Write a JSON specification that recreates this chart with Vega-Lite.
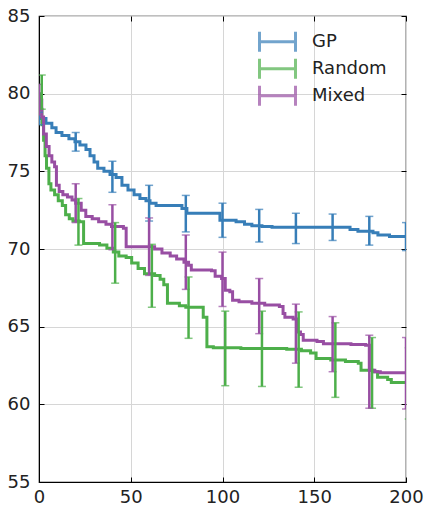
{
  "$schema": "https://vega.github.io/schema/vega-lite/v6.json",
  "width": 367,
  "height": 466,
  "autosize": {"type": "none"},
  "padding": {"left": 39, "top": 16, "right": 21, "bottom": 23},
  "background": "white",
  "config": {"font": "DejaVu Sans", "view": {"stroke": "black", "strokeWidth": 1.2}},
  "datasets": {
    "lines": [
      {"method": "GP", "x": 0, "y": 78.4}, {"method": "GP", "x": 3.8, "y": 78.1}, {"method": "GP", "x": 7, "y": 77.8},
      {"method": "GP", "x": 9.3, "y": 77.5}, {"method": "GP", "x": 12.5, "y": 77.3}, {"method": "GP", "x": 16.3, "y": 77.1},
      {"method": "GP", "x": 19.6, "y": 76.9}, {"method": "GP", "x": 22.3, "y": 76.7}, {"method": "GP", "x": 25.6, "y": 76.4},
      {"method": "GP", "x": 27.8, "y": 76.0}, {"method": "GP", "x": 30, "y": 75.6}, {"method": "GP", "x": 32, "y": 75.2},
      {"method": "GP", "x": 35.4, "y": 75.0}, {"method": "GP", "x": 38.7, "y": 74.8}, {"method": "GP", "x": 42, "y": 74.6},
      {"method": "GP", "x": 45.2, "y": 74.1}, {"method": "GP", "x": 48.5, "y": 73.8}, {"method": "GP", "x": 51.8, "y": 73.5},
      {"method": "GP", "x": 55, "y": 73.25}, {"method": "GP", "x": 58.3, "y": 73.1}, {"method": "GP", "x": 60.5, "y": 72.95},
      {"method": "GP", "x": 63.8, "y": 72.8}, {"method": "GP", "x": 77.9, "y": 72.6}, {"method": "GP", "x": 80.6, "y": 72.3},
      {"method": "GP", "x": 98.6, "y": 71.85}, {"method": "GP", "x": 107.4, "y": 71.75}, {"method": "GP", "x": 112, "y": 71.6},
      {"method": "GP", "x": 116, "y": 71.5}, {"method": "GP", "x": 121.5, "y": 71.45}, {"method": "GP", "x": 127, "y": 71.4},
      {"method": "GP", "x": 169.5, "y": 71.25}, {"method": "GP", "x": 173.8, "y": 71.15}, {"method": "GP", "x": 182, "y": 71.05},
      {"method": "GP", "x": 184.7, "y": 70.9}, {"method": "GP", "x": 191, "y": 70.8}, {"method": "GP", "x": 200, "y": 70.8},

      {"method": "Random", "x": 0, "y": 80.0}, {"method": "Random", "x": 0.8, "y": 79.0}, {"method": "Random", "x": 1.6, "y": 78.0},
      {"method": "Random", "x": 2.5, "y": 77.0}, {"method": "Random", "x": 3.3, "y": 76.0}, {"method": "Random", "x": 4.1, "y": 75.2},
      {"method": "Random", "x": 5.4, "y": 74.2}, {"method": "Random", "x": 6.5, "y": 73.8}, {"method": "Random", "x": 8.5, "y": 73.5},
      {"method": "Random", "x": 10.5, "y": 73.1}, {"method": "Random", "x": 12.7, "y": 72.8}, {"method": "Random", "x": 14.5, "y": 72.2},
      {"method": "Random", "x": 16.5, "y": 71.95}, {"method": "Random", "x": 18.5, "y": 71.8}, {"method": "Random", "x": 22, "y": 71.75},
      {"method": "Random", "x": 24.3, "y": 70.35}, {"method": "Random", "x": 33, "y": 70.25}, {"method": "Random", "x": 37, "y": 70.05},
      {"method": "Random", "x": 40.5, "y": 69.8}, {"method": "Random", "x": 43.5, "y": 69.55}, {"method": "Random", "x": 47.5, "y": 69.45},
      {"method": "Random", "x": 50.5, "y": 69.1}, {"method": "Random", "x": 54, "y": 68.75}, {"method": "Random", "x": 57.5, "y": 68.4},
      {"method": "Random", "x": 63, "y": 68.3}, {"method": "Random", "x": 66, "y": 68.05}, {"method": "Random", "x": 68, "y": 67.7},
      {"method": "Random", "x": 70, "y": 66.5}, {"method": "Random", "x": 76.5, "y": 66.35}, {"method": "Random", "x": 80, "y": 66.25},
      {"method": "Random", "x": 89.5, "y": 65.6}, {"method": "Random", "x": 91.5, "y": 63.7}, {"method": "Random", "x": 95, "y": 63.65},
      {"method": "Random", "x": 110, "y": 63.6}, {"method": "Random", "x": 135, "y": 63.55}, {"method": "Random", "x": 143, "y": 63.45},
      {"method": "Random", "x": 148, "y": 63.3}, {"method": "Random", "x": 151, "y": 62.95}, {"method": "Random", "x": 159, "y": 62.85},
      {"method": "Random", "x": 167, "y": 62.75}, {"method": "Random", "x": 174, "y": 62.65}, {"method": "Random", "x": 175.5, "y": 62.2},
      {"method": "Random", "x": 182, "y": 62.1}, {"method": "Random", "x": 184.5, "y": 61.75}, {"method": "Random", "x": 190, "y": 61.6},
      {"method": "Random", "x": 192, "y": 61.4}, {"method": "Random", "x": 200, "y": 61.35},

      {"method": "Mixed", "x": 0, "y": 79.6}, {"method": "Mixed", "x": 1.5, "y": 78.5}, {"method": "Mixed", "x": 2.5, "y": 77.4},
      {"method": "Mixed", "x": 4, "y": 76.6}, {"method": "Mixed", "x": 5.5, "y": 76.0}, {"method": "Mixed", "x": 7, "y": 75.6},
      {"method": "Mixed", "x": 8.5, "y": 75.3}, {"method": "Mixed", "x": 9.5, "y": 74.1}, {"method": "Mixed", "x": 11, "y": 73.7},
      {"method": "Mixed", "x": 13, "y": 73.5}, {"method": "Mixed", "x": 15.5, "y": 73.35}, {"method": "Mixed", "x": 18, "y": 73.15},
      {"method": "Mixed", "x": 20, "y": 72.95}, {"method": "Mixed", "x": 23, "y": 72.5}, {"method": "Mixed", "x": 25.5, "y": 72.1},
      {"method": "Mixed", "x": 29, "y": 71.95}, {"method": "Mixed", "x": 32.5, "y": 71.75}, {"method": "Mixed", "x": 36.5, "y": 71.6},
      {"method": "Mixed", "x": 39.5, "y": 71.45}, {"method": "Mixed", "x": 46, "y": 71.33}, {"method": "Mixed", "x": 47.5, "y": 70.15},
      {"method": "Mixed", "x": 63, "y": 70.0}, {"method": "Mixed", "x": 67, "y": 69.75}, {"method": "Mixed", "x": 71.5, "y": 69.55},
      {"method": "Mixed", "x": 75, "y": 69.35}, {"method": "Mixed", "x": 79, "y": 69.15}, {"method": "Mixed", "x": 81.5, "y": 68.95},
      {"method": "Mixed", "x": 83, "y": 68.65}, {"method": "Mixed", "x": 94, "y": 68.6}, {"method": "Mixed", "x": 96, "y": 68.25},
      {"method": "Mixed", "x": 99.5, "y": 68.1}, {"method": "Mixed", "x": 101.5, "y": 67.35}, {"method": "Mixed", "x": 104, "y": 67.25},
      {"method": "Mixed", "x": 105.5, "y": 66.7}, {"method": "Mixed", "x": 109, "y": 66.6}, {"method": "Mixed", "x": 116, "y": 66.5},
      {"method": "Mixed", "x": 123, "y": 66.4}, {"method": "Mixed", "x": 131, "y": 66.3}, {"method": "Mixed", "x": 133, "y": 65.85},
      {"method": "Mixed", "x": 134, "y": 65.6}, {"method": "Mixed", "x": 138.5, "y": 65.5}, {"method": "Mixed", "x": 140.5, "y": 64.65},
      {"method": "Mixed", "x": 142.5, "y": 64.5}, {"method": "Mixed", "x": 144, "y": 64.12}, {"method": "Mixed", "x": 151.5, "y": 64.05},
      {"method": "Mixed", "x": 155, "y": 63.9}, {"method": "Mixed", "x": 170, "y": 63.85}, {"method": "Mixed", "x": 178, "y": 63.8},
      {"method": "Mixed", "x": 180, "y": 62.2}, {"method": "Mixed", "x": 183, "y": 62.1}, {"method": "Mixed", "x": 186, "y": 62.03},
      {"method": "Mixed", "x": 200, "y": 62.03}
    ],
    "bars": [
      {"method": "GP", "x": 0, "lo": 78.0, "hi": 78.8}, {"method": "GP", "x": 20, "lo": 76.3, "hi": 77.5},
      {"method": "GP", "x": 40, "lo": 73.65, "hi": 75.65}, {"method": "GP", "x": 60, "lo": 71.8, "hi": 74.1},
      {"method": "GP", "x": 80, "lo": 71.1, "hi": 73.45}, {"method": "GP", "x": 100, "lo": 70.75, "hi": 72.95},
      {"method": "GP", "x": 120, "lo": 70.45, "hi": 72.55}, {"method": "GP", "x": 140, "lo": 70.35, "hi": 72.3},
      {"method": "GP", "x": 160, "lo": 70.55, "hi": 72.25}, {"method": "GP", "x": 180, "lo": 70.25, "hi": 72.1},
      {"method": "GP", "x": 200, "lo": 69.9, "hi": 71.7},

      {"method": "Random", "x": 1.5, "lo": 79.0, "hi": 81.2}, {"method": "Random", "x": 21.5, "lo": 70.25, "hi": 73.25},
      {"method": "Random", "x": 41.5, "lo": 67.8, "hi": 71.7}, {"method": "Random", "x": 61.5, "lo": 66.25, "hi": 70.3},
      {"method": "Random", "x": 81.5, "lo": 64.25, "hi": 68.2}, {"method": "Random", "x": 101.5, "lo": 61.2, "hi": 66.0},
      {"method": "Random", "x": 121.5, "lo": 61.15, "hi": 66.0}, {"method": "Random", "x": 141.5, "lo": 61.1, "hi": 65.95},
      {"method": "Random", "x": 161.5, "lo": 60.45, "hi": 65.25}, {"method": "Random", "x": 181.5, "lo": 59.75, "hi": 64.3},
      {"method": "Random", "x": 201.5, "lo": 59.05, "hi": 63.65},

      {"method": "Mixed", "x": 0, "lo": 78.6, "hi": 80.6}, {"method": "Mixed", "x": 20, "lo": 71.7, "hi": 74.2},
      {"method": "Mixed", "x": 40, "lo": 69.95, "hi": 72.85}, {"method": "Mixed", "x": 60, "lo": 68.3, "hi": 72.0},
      {"method": "Mixed", "x": 80, "lo": 67.4, "hi": 70.9}, {"method": "Mixed", "x": 100, "lo": 66.3, "hi": 69.8},
      {"method": "Mixed", "x": 120, "lo": 64.55, "hi": 68.1}, {"method": "Mixed", "x": 140, "lo": 62.65, "hi": 66.45},
      {"method": "Mixed", "x": 160, "lo": 62.1, "hi": 65.65}, {"method": "Mixed", "x": 180, "lo": 59.75, "hi": 64.45},
      {"method": "Mixed", "x": 200, "lo": 59.7, "hi": 64.3}
    ]
  },
  "layer": [
    {
      "data": {"name": "lines"},
      "mark": {"type": "line", "interpolate": "step-after", "strokeWidth": 3, "clip": true},
      "encoding": {
        "x": {"field": "x", "type": "quantitative", "scale": {"domain": [0, 200], "nice": false, "zero": false},
          "axis": {"title": null, "values": [0, 50, 100, 150, 200], "labelFontSize": 18, "labelColor": "#222", "labelFont": "DejaVu Sans",
            "tickColor": "black", "tickSize": -5, "labelPadding": 11, "domainColor": "black", "gridColor": "#d6d6d6", "labelFlush": false, "labelOverlap": false}},
        "y": {"field": "y", "type": "quantitative", "scale": {"domain": [55, 85], "nice": false, "zero": false},
          "axis": {"title": null, "values": [55, 60, 65, 70, 75, 80, 85], "labelFontSize": 18, "labelColor": "#222", "labelFont": "DejaVu Sans",
            "tickColor": "black", "tickSize": -5, "labelPadding": 14, "domainColor": "black", "gridColor": "#d6d6d6", "labelFlush": false, "labelOverlap": false}},
        "color": {"field": "method", "type": "nominal",
          "scale": {"domain": ["GP", "Random", "Mixed"], "range": ["#377eb8", "#4daf4a", "#984ea3"]},
          "legend": {"orient": "none", "legendX": 217.5, "legendY": 12.3, "title": null, "padding": 0, "clipHeight": 26.7,
            "symbolType": "M-2.25,-1.25L-2.25,1.25M2.25,-1.25L2.25,1.25M-2.25,0L2.25,0", "symbolSize": 256, "symbolStrokeWidth": 3,
            "symbolOffset": 11.5, "symbolFillColor": "transparent", "symbolOpacity": 1, "labelFont": "DejaVu Sans", "labelFontSize": 18, "labelColor": "#222",
            "labelOffset": 25, "rowPadding": 0}}
      }
    },
    {
      "data": {"name": "bars"},
      "mark": {"type": "errorbar", "clip": true, "ticks": {"size": 8, "thickness": 1.5}, "rule": {"strokeWidth": 2.5}},
      "encoding": {
        "x": {"field": "x", "type": "quantitative", "axis": null},
        "y": {"field": "lo", "type": "quantitative", "axis": null},
        "y2": {"field": "hi"},
        "color": {"field": "method", "type": "nominal"}
      }
    },
    {
      "data": {"name": "lines"},
      "mark": {"type": "point", "opacity": 0},
      "encoding": {
        "x": {"field": "x", "type": "quantitative",
          "axis": {"orient": "top", "title": null, "labels": false, "grid": false, "domain": false, "values": [0, 50, 100, 150, 200], "tickColor": "black", "tickSize": -5}},
        "y": {"field": "y", "type": "quantitative",
          "axis": {"orient": "right", "title": null, "labels": false, "grid": false, "domain": false, "values": [55, 60, 65, 70, 75, 80, 85], "tickColor": "black", "tickSize": -5}}
      }
    }
  ],
  "resolve": {"axis": {"x": "independent", "y": "independent"}}
}
